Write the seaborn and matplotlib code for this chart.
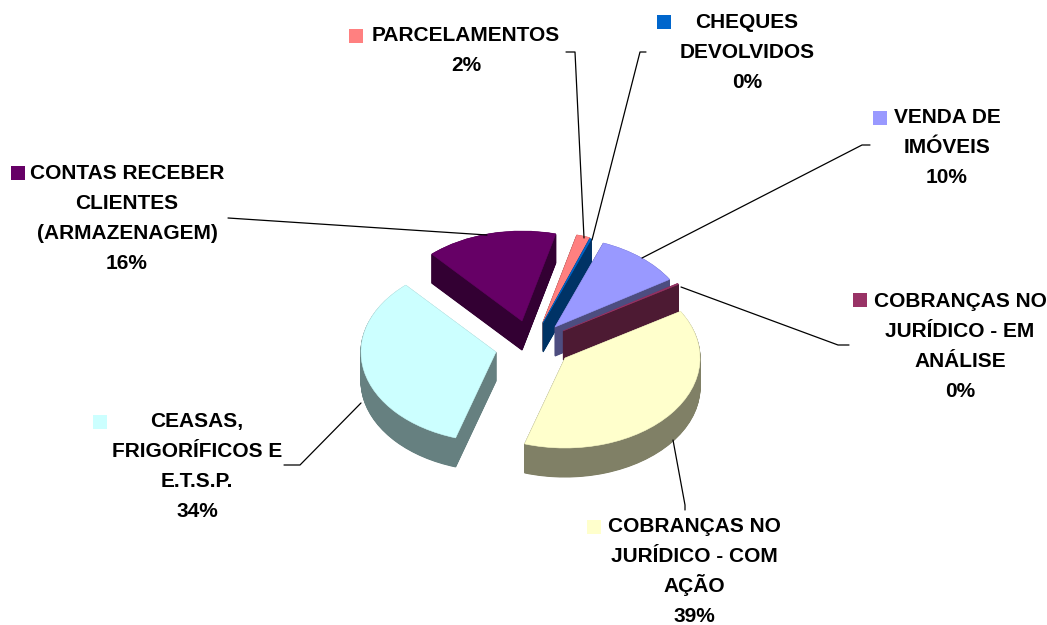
import numpy as np
import matplotlib
matplotlib.use("Agg")
import matplotlib.pyplot as plt
from matplotlib.colors import to_rgb
import seaborn as sns

# categories clockwise, starting at the salmon slice
categories = [["PARCELAMENTOS"], ["CHEQUES", "DEVOLVIDOS"], ["VENDA DE", "IMÓVEIS"],
              ["COBRANÇAS NO", "JURÍDICO - EM", "ANÁLISE"], ["COBRANÇAS NO", "JURÍDICO - COM", "AÇÃO"],
              ["CEASAS,", "FRIGORÍFICOS E", "E.T.S.P."], ["CONTAS RECEBER", "CLIENTES", "(ARMAZENAGEM)"]]
values = [1.6, 0.2, 10.3, 0.2, 38.51, 33.51, 15.68]
colors = ["#FF8080", "#0066CC", "#9999FF", "#993366", "#FFFFCC", "#CCFFFF", "#660066"]

# layout in picture pixels
apex = [(543, 322), (543, 323), (555, 327), (563, 331), (565, 358), (496, 352), (522, 321)]
label_pos = [(466, 41), (747, 28), (947, 123), (960, 307), (694, 532), (197, 427), (127, 179)]
key_pos = [(356, 36), (664, 22), (880, 118), (860, 300), (594, 527), (100, 422), (18, 173)]
leaders = [[(566, 52), (575, 52), (584, 238)],
           [(646, 52), (640, 52), (592, 240)],
           [(870, 145), (862, 145), (642, 258)],
           [(849, 345), (838, 345), (681, 287)],
           [(685, 510), (685, 505), (673, 440)],
           [(284, 465), (300, 465), (361, 403)],
           [(228, 218), (487, 235)]]
draw_order = [6, 0, 1, 2, 3, 5, 4]

W, H = 1047, 625
rx, ry = 135, 90
depth = 29
line_gap = 30
k = ry / rx
start = 75.5

sns.set_theme(style="white")
plt.rcParams["font.family"] = ["Liberation Sans", "DejaVu Sans"]


def py(y):
    return (H - y) / k


fig = plt.figure(figsize=(W / 100, H / 100), dpi=100, facecolor="white")
ax = fig.add_axes([0, 0, 1, 1])

starts = start - 3.6 * np.concatenate([[0], np.cumsum(values)[:-1]])

for i in draw_order:
    side = tuple(np.array(to_rgb(colors[i])) * 0.5)
    x0, y0 = apex[i]
    # stack darker copies downwards for the thickness, then the top face
    for d in np.arange(depth, 0, -0.5):
        ax.pie([values[i] / 100], colors=[side], normalize=False,
               startangle=starts[i], counterclock=False, radius=rx,
               center=(x0, py(y0 + d)), wedgeprops={"linewidth": 0.8, "edgecolor": side})
    ax.pie([values[i] / 100], colors=[colors[i]], normalize=False,
           startangle=starts[i], counterclock=False, radius=rx,
           center=(x0, py(y0)), wedgeprops={"linewidth": 0.4, "edgecolor": colors[i]})

ax.set_aspect("auto")
ax.set_xlim(0, W)
ax.set_ylim(0, H / k)
ax.axis("off")

for pts in leaders:
    xs = [p[0] for p in pts]
    ys = [py(p[1]) for p in pts]
    ax.plot(xs, ys, color="black", lw=0.9, zorder=3)

for cat, v, c, lp, kp in zip(categories, values, colors, label_pos, key_pos):
    # one text per line so the line gap stays even
    for j, line in enumerate(cat + [f"{v:.0f}%"]):
        ax.text(lp[0], py(lp[1] + j * line_gap), line, ha="center", va="baseline", fontsize=15,
                fontweight="bold", color="black", zorder=4)
    ax.scatter(kp[0], py(kp[1]), marker="s", s=100, color=c, linewidths=0, zorder=4)

fig.savefig("out.png", dpi=100)
